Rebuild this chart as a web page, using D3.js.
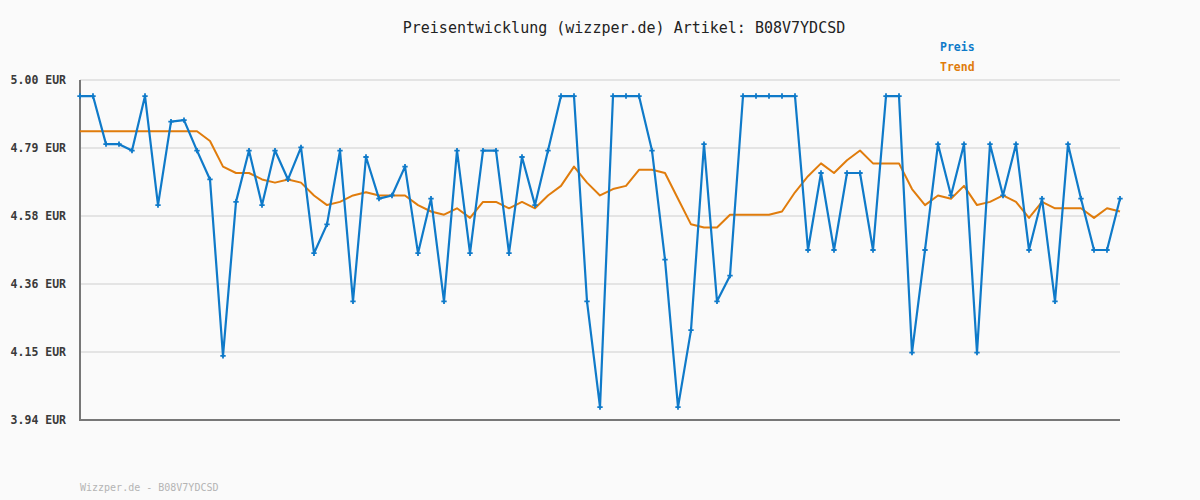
<!DOCTYPE html>
<html>
<head>
<meta charset="utf-8">
<script src="https://cdn.jsdelivr.net/npm/d3@7"></script>
<style>
  html, body { margin: 0; padding: 0; background: #fafafa; }
  svg { display: block; }
  text { font-family: "DejaVu Sans Mono", "Liberation Mono", monospace; }
</style>
</head>
<body>
<svg id="chart" width="1200" height="500"></svg>
<script>
const titleText = "Preisentwicklung (wizzper.de) Artikel: B08V7YDCSD";
const footerText = "Wizzper.de - B08V7YDCSD";
const seriesNames = ["Preis", "Trend"];
const yTickValues = [5.00, 4.788, 4.576, 4.364, 4.152, 3.94];
const yTickLabels = ["5.00 EUR", "4.79 EUR", "4.58 EUR", "4.36 EUR", "4.15 EUR", "3.94 EUR"];

const price = [
  4.95,4.95,4.80,4.80,4.78,4.95,4.61,4.87,4.875,4.78,
  4.69,4.14,4.62,4.78,4.61,4.78,4.69,4.79,4.46,4.55,
  4.78,4.31,4.76,4.63,4.64,4.73,4.46,4.63,4.31,4.78,
  4.46,4.78,4.78,4.46,4.76,4.61,4.78,4.95,4.95,4.31,
  3.98,4.95,4.95,4.95,4.78,4.44,3.98,4.22,4.80,4.31,
  4.39,4.95,4.95,4.95,4.95,4.95,4.47,4.71,4.47,4.71,
  4.71,4.47,4.95,4.95,4.15,4.47,4.80,4.64,4.80,4.15,
  4.80,4.64,4.80,4.47,4.63,4.31,4.80,4.63,4.47,4.47,
  4.63
];
const trend = [
  4.84,4.84,4.84,4.84,4.84,4.84,4.84,4.84,4.84,4.84,
  4.81,4.73,4.71,4.71,4.69,4.68,4.69,4.68,4.64,4.61,
  4.62,4.64,4.65,4.64,4.64,4.64,4.61,4.59,4.58,4.60,
  4.57,4.62,4.62,4.60,4.62,4.60,4.64,4.67,4.73,4.68,
  4.64,4.66,4.67,4.72,4.72,4.71,4.63,4.55,4.54,4.54,
  4.58,4.58,4.58,4.58,4.59,4.65,4.70,4.74,4.71,4.75,
  4.78,4.74,4.74,4.74,4.66,4.61,4.64,4.63,4.67,4.61,
  4.62,4.64,4.62,4.57,4.62,4.60,4.60,4.60,4.57,4.60,
  4.59
];

const colors = { Preis: "#0f7ac9", Trend: "#e07c0c" };
const W = 1200, H = 500;
const m = { left: 80, right: 80, top: 80, bottom: 80 };

const svg = d3.select("#chart");
svg.append("rect").attr("width", W).attr("height", H).attr("fill", "#fafafa");

const x = d3.scaleLinear().domain([0, price.length - 1]).range([m.left, W - m.right]);
const y = d3.scaleLinear().domain([3.94, 5.00]).range([H - m.bottom, m.top]);

// grid lines
svg.append("g")
  .selectAll("line")
  .data(yTickValues.filter(v => v > 3.95))
  .join("line")
  .attr("x1", m.left).attr("x2", W - m.right)
  .attr("y1", d => y(d)).attr("y2", d => y(d))
  .attr("stroke", "#e4e4e4").attr("stroke-width", 2);

// y axis labels
const yAxis = d3.axisLeft(y)
  .tickValues(yTickValues)
  .tickSize(0)
  .tickPadding(14)
  .tickFormat((d, i) => yTickLabels[i]);
const gy = svg.append("g").attr("transform", `translate(${m.left},0)`).call(yAxis);
gy.select(".domain").remove();
gy.selectAll("text")
  .attr("font-family", "'DejaVu Sans Mono', monospace")
  .attr("font-size", 11.5)
  .attr("font-weight", "bold")
  .attr("fill", "#3a3a3a");

// axis lines
svg.append("line")
  .attr("x1", m.left).attr("x2", m.left)
  .attr("y1", y(5.00)).attr("y2", y(3.94) + 1)
  .attr("stroke", "#777").attr("stroke-width", 2);
svg.append("line")
  .attr("x1", m.left - 1).attr("x2", W - m.right)
  .attr("y1", y(3.94)).attr("y2", y(3.94))
  .attr("stroke", "#777").attr("stroke-width", 2);

const line = d3.line().x((d, i) => x(i)).y(d => y(d));

svg.append("path")
  .attr("d", line(trend))
  .attr("fill", "none")
  .attr("stroke", colors.Trend)
  .attr("stroke-width", 2)
  .attr("stroke-linejoin", "round");

svg.append("path")
  .attr("d", line(price))
  .attr("fill", "none")
  .attr("stroke", colors.Preis)
  .attr("stroke-width", 2.2)
  .attr("stroke-linejoin", "round");

svg.append("g")
  .selectAll("path")
  .data(price)
  .join("path")
  .attr("transform", (d, i) => `translate(${x(i)},${y(d)})`)
  .attr("d", d3.symbol(d3.symbolCross, 16))
  .attr("fill", colors.Preis);

// title
svg.append("text")
  .attr("x", 624).attr("y", 28)
  .attr("text-anchor", "middle")
  .attr("dominant-baseline", "central")
  .attr("font-size", 15)
  .attr("fill", "#222")
  .text(titleText);

// legend
svg.append("g")
  .selectAll("text")
  .data(seriesNames)
  .join("text")
  .attr("x", 940)
  .attr("y", (d, i) => 47 + i * 20)
  .attr("dominant-baseline", "central")
  .attr("font-size", 11.5)
  .attr("font-weight", "bold")
  .attr("fill", d => colors[d])
  .text(d => d);

// footer
svg.append("text")
  .attr("x", 80).attr("y", 487)
  .attr("dominant-baseline", "central")
  .attr("font-size", 10)
  .attr("fill", "#b4b4b4")
  .text(footerText);
</script>
</body>
</html>
